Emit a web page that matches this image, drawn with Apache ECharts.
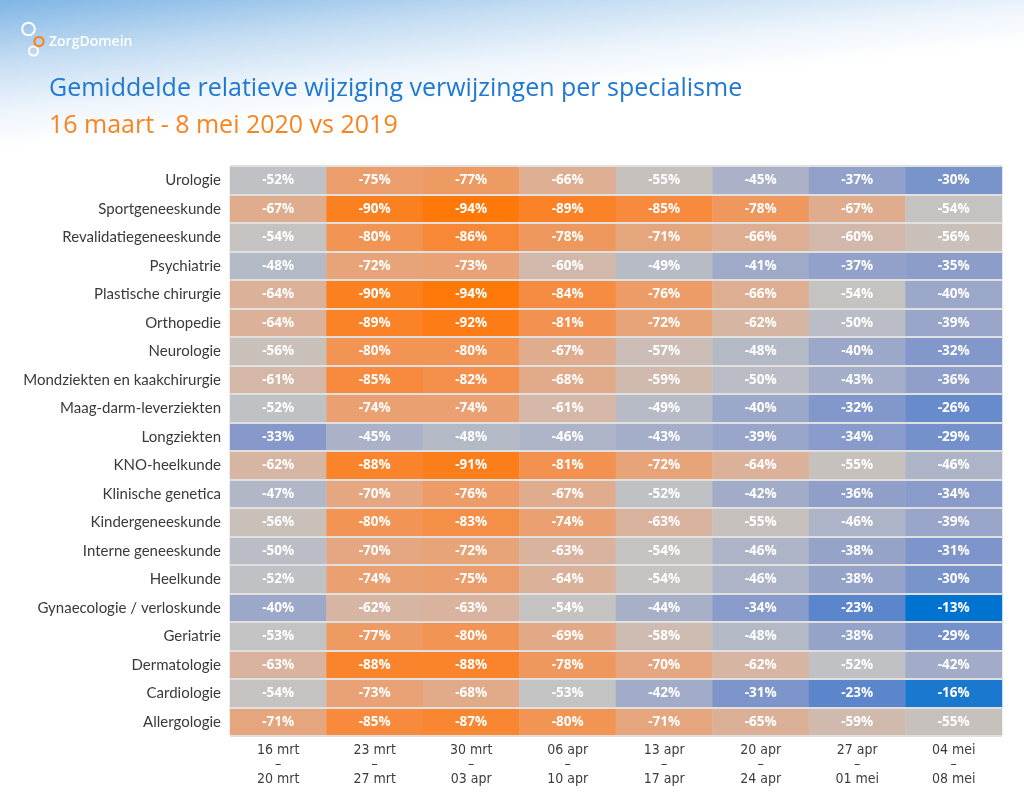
<!DOCTYPE html>
<html>
<head>
<meta charset="utf-8">
<script src="https://cdn.jsdelivr.net/npm/echarts@6/dist/echarts.min.js"></script>
<style>html,body{margin:0;padding:0;background:#fff;}#c{width:1024px;height:808px;}</style>
</head>
<body>
<div id="c"></div>
<script>
const specialisms = ["Urologie","Sportgeneeskunde","Revalidatiegeneeskunde","Psychiatrie","Plastische chirurgie","Orthopedie","Neurologie","Mondziekten en kaakchirurgie","Maag-darm-leverziekten","Longziekten","KNO-heelkunde","Klinische genetica","Kindergeneeskunde","Interne geneeskunde","Heelkunde","Gynaecologie / verloskunde","Geriatrie","Dermatologie","Cardiologie","Allergologie"];
const weeks = ["16 mrt\n–\n20 mrt","23 mrt\n–\n27 mrt","30 mrt\n–\n03 apr","06 apr\n–\n10 apr","13 apr\n–\n17 apr","20 apr\n–\n24 apr","27 apr\n–\n01 mei","04 mei\n–\n08 mei"];
const Urologie = [-52,-75,-77,-66,-55,-45,-37,-30];
const Sportgeneeskunde = [-67,-90,-94,-89,-85,-78,-67,-54];
const Revalidatiegeneeskunde = [-54,-80,-86,-78,-71,-66,-60,-56];
const Psychiatrie = [-48,-72,-73,-60,-49,-41,-37,-35];
const PlastischeChirurgie = [-64,-90,-94,-84,-76,-66,-54,-40];
const Orthopedie = [-64,-89,-92,-81,-72,-62,-50,-39];
const Neurologie = [-56,-80,-80,-67,-57,-48,-40,-32];
const Mondziekten = [-61,-85,-82,-68,-59,-50,-43,-36];
const MaagDarmLever = [-52,-74,-74,-61,-49,-40,-32,-26];
const Longziekten = [-33,-45,-48,-46,-43,-39,-34,-29];
const KNO = [-62,-88,-91,-81,-72,-64,-55,-46];
const KlinischeGenetica = [-47,-70,-76,-67,-52,-42,-36,-34];
const Kindergeneeskunde = [-56,-80,-83,-74,-63,-55,-46,-39];
const InterneGeneeskunde = [-50,-70,-72,-63,-54,-46,-38,-31];
const Heelkunde = [-52,-74,-75,-64,-54,-46,-38,-30];
const Gynaecologie = [-40,-62,-63,-54,-44,-34,-23,-13];
const Geriatrie = [-53,-77,-80,-69,-58,-48,-38,-29];
const Dermatologie = [-63,-88,-88,-78,-70,-62,-52,-42];
const Cardiologie = [-54,-73,-68,-53,-42,-31,-23,-16];
const Allergologie = [-71,-85,-87,-80,-71,-65,-59,-55];

const rows = [Urologie,Sportgeneeskunde,Revalidatiegeneeskunde,Psychiatrie,PlastischeChirurgie,Orthopedie,Neurologie,Mondziekten,MaagDarmLever,Longziekten,KNO,KlinischeGenetica,Kindergeneeskunde,InterneGeneeskunde,Heelkunde,Gynaecologie,Geriatrie,Dermatologie,Cardiologie,Allergologie];

const data = [];
rows.forEach((r, yi) => r.forEach((v, xi) => data.push([xi, yi, v])));

const chart = echarts.init(document.getElementById('c'), null, {renderer: 'canvas'});
chart.setOption({
  backgroundColor: '#ffffff',
  animation: false,
  graphic: [
    {type:'rect', z:-10, shape:{x:0,y:0,width:1024,height:175},
     style:{fill:{type:'linear',x:0,y:0,x2:0.0148,y2:0.848,colorStops:[
       {offset:0,color:'#7fb5e5'},{offset:0.4,color:'#c3dcf2'},{offset:0.75,color:'#eef5fc'},{offset:1,color:'#ffffff'}]}}},
    {type:'circle', shape:{cx:28.5,cy:29,r:6.3}, style:{fill:'none',stroke:'#ffffff',lineWidth:2}},
    {type:'circle', shape:{cx:33.5,cy:51,r:4.6}, style:{fill:'none',stroke:'#ffffff',lineWidth:2}},
    {type:'circle', shape:{cx:39,cy:41.5,r:4.6}, style:{fill:'none',stroke:'#f7841f',lineWidth:2.2}},
    {type:'text', x:49, y:42, style:{text:'ZorgDomein', fill:'#ffffff', font:'600 14px "Open Sans"', verticalAlign:'middle'}},
    {type:'text', x:49, y:89, style:{text:'Gemiddelde relatieve wijziging verwijzingen per specialisme', fill:'#1f78d2', font:'25px "Open Sans"', verticalAlign:'middle'}},
    {type:'text', x:49, y:126, style:{text:'16 maart - 8 mei 2020 vs 2019', fill:'#f7841f', font:'25px "Open Sans"', verticalAlign:'middle'}}
  ],
  grid: {left:230, right:22, top:166, bottom:72, containLabel:false},
  xAxis: {
    type:'category', data: weeks, position:'bottom',
    axisLine:{show:false}, axisTick:{show:false}, splitLine:{show:false},
    axisLabel:{fontFamily:'"Liberation Sans Narrow","DejaVu Sans Condensed",sans-serif', fontSize:14, lineHeight:14.5, color:'#3d3d3d', margin:7}
  },
  yAxis: {
    type:'category', data: specialisms, inverse:true, z:10,
    axisLine:{show:false}, axisTick:{show:false},
    splitLine:{show:true, lineStyle:{color:'#e0e0e0', width:2}},
    axisLabel:{fontFamily:'Lato, sans-serif', fontSize:15, color:'#3a3a3a', margin:9}
  },
  visualMap: {
    type:'continuous', show:false, dimension:2, min:-94, max:-13,
    inRange:{color:['#ff780a','#f68c42','#eaa172','#dab29c','#c4c4c4','#a6afc8','#8799ca','#5c86cc','#0072d0']}
  },
  series: [{
    type:'heatmap', data: data,
    label:{show:true, color:'#ffffff', fontFamily:'"Open Sans", sans-serif', fontWeight:'bold', fontSize:13.5,
      formatter: p => p.value[2] + '%'},
    itemStyle:{borderWidth:0},
    emphasis:{disabled:true}
  }]
});
</script>
</body>
</html>
